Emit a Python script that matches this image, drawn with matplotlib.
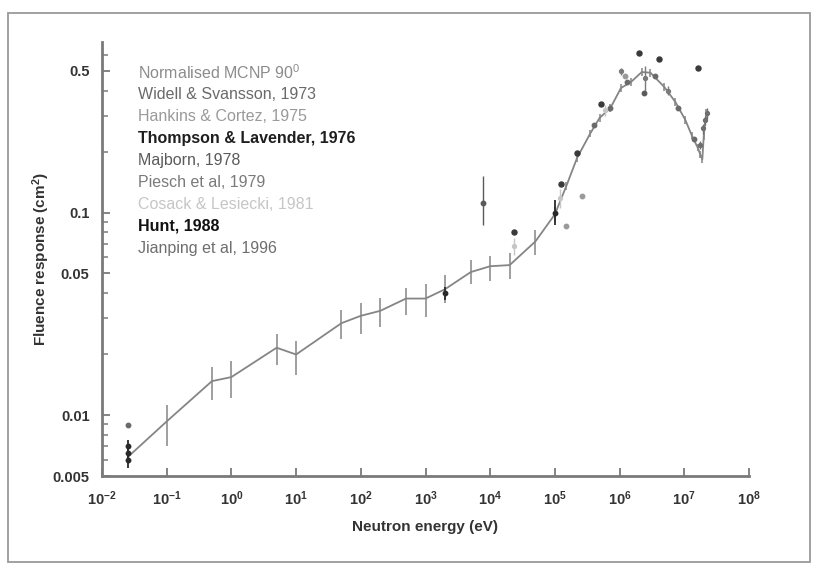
import matplotlib
matplotlib.use('Agg')
import matplotlib.pyplot as plt
from matplotlib.patches import Rectangle
from matplotlib.ticker import FixedLocator, LogLocator, NullFormatter, NullLocator

plt.rcParams['font.family'] = ['Liberation Sans', 'DejaVu Sans']
plt.rcParams['mathtext.fontset'] = 'custom'
plt.rcParams['mathtext.rm'] = 'Liberation Sans'
plt.rcParams['mathtext.bf'] = 'Liberation Sans:bold'
plt.rcParams['mathtext.it'] = 'Liberation Sans:italic'

# ---------------- data ----------------
mcnp_energy = [0.025, 0.1, 0.5, 1, 5, 10, 50, 100, 200, 500, 1e3, 2e3, 5e3, 1e4, 2e4, 5e4,
               1e5, 1.5e5, 2.2e5, 3.5e5, 4.9e5, 7.2e5, 1.05e6, 1.5e6, 2.2e6, 3.0e6, 4.9e6,
               7.3e6, 1.04e7, 1.3e7, 1.6e7, 1.77e7, 1.9e7, 2.0e7, 2.1e7, 2.2e7]
mcnp_resp = [0.0062, 0.0093, 0.0147, 0.0154, 0.0215, 0.0199, 0.0284, 0.0309, 0.0327, 0.0376,
             0.0376, 0.0418, 0.0508, 0.0543, 0.0550, 0.0720, 0.098, 0.135, 0.186, 0.245,
             0.293, 0.328, 0.412, 0.441, 0.494, 0.490, 0.417, 0.351, 0.286, 0.241, 0.210,
             0.193, 0.183, 0.240, 0.280, 0.310]
mcnp_lo = [0.0057, 0.00705, 0.0118, 0.0122, 0.0177, 0.0157, 0.0237, 0.0251, 0.0272, 0.0312,
           0.0305, 0.0357, 0.0443, 0.0461, 0.0470, 0.0618, 0.090, 0.129, 0.178, 0.235,
           0.281, 0.314, 0.395, 0.423, 0.470, 0.466, 0.399, 0.336, 0.274, 0.231, 0.201,
           0.185, 0.175, 0.228, 0.266, 0.294]
mcnp_hi = [0.0068, 0.01127, 0.0173, 0.0184, 0.0251, 0.0232, 0.0330, 0.0357, 0.0379, 0.0426,
           0.0443, 0.0489, 0.0582, 0.0611, 0.0630, 0.0822, 0.106, 0.141, 0.194, 0.255,
           0.305, 0.342, 0.429, 0.459, 0.520, 0.514, 0.435, 0.366, 0.298, 0.251, 0.219,
           0.201, 0.191, 0.252, 0.294, 0.326]

widell_energy = [0.025, 4e5, 7e5, 1.3e6, 3.5e6, 8e6, 1.4e7]
widell_resp = [0.0089, 0.27, 0.33, 0.44, 0.47, 0.33, 0.23]

hankins_energy = [1.5e5, 2.6e5, 1.2e6]
hankins_resp = [0.086, 0.120, 0.47]

thompson_energy = [2.3e4, 1.23e5, 2.2e5, 5.2e5, 2.0e6, 4.1e6, 1.6e7]
thompson_resp = [0.080, 0.138, 0.197, 0.343, 0.61, 0.57, 0.52]

majborn_energy = [7.8e3, 2.4e6]
majborn_resp = [0.111, 0.39]
majborn_lo = [0.087, 0.39]
majborn_hi = [0.151, 0.39]

piesch_energy = [1.05e6, 2.5e6, 5.5e6]
piesch_resp = [0.50, 0.46, 0.40]
piesch_lo = [0.48, 0.40, 0.38]
piesch_hi = [0.52, 0.53, 0.42]

cosack_energy = [2.3e4, 1.2e5, 6e5]
cosack_resp = [0.068, 0.118, 0.32]
cosack_lo = [0.062, 0.105, 0.30]
cosack_hi = [0.075, 0.130, 0.34]

hunt_energy = [0.025, 0.025, 0.025, 2e3, 1e5]
hunt_resp = [0.0060, 0.0065, 0.0070, 0.040, 0.100]
hunt_lo = [0.0055, 0.0060, 0.0065, 0.037, 0.087]
hunt_hi = [0.0065, 0.0070, 0.0075, 0.043, 0.115]

jianping_energy = [1.75e7, 1.95e7, 2.1e7, 2.25e7]
jianping_resp = [0.215, 0.26, 0.285, 0.31]
jianping_lo = [0.205, 0.245, 0.270, 0.290]
jianping_hi = [0.225, 0.275, 0.300, 0.330]

legend_labels = ['Normalised MCNP 90$^{0}$', 'Widell & Svansson, 1973', 'Hankins & Cortez, 1975',
                 'Thompson & Lavender, 1976', 'Majborn, 1978', 'Piesch et al, 1979',
                 'Cosack & Lesiecki, 1981', 'Hunt, 1988', 'Jianping et al, 1996']
legend_colors = ['#8c8c8c', '#6a6a6a', '#9a9a9a', '#1e1e1e', '#5a5a5a', '#7a7a7a',
                 '#c6c6c6', '#111111', '#6e6e6e']
legend_weights = ['normal', 'normal', 'normal', 'bold', 'normal', 'normal', 'normal', 'bold', 'normal']

x_ticks = [1e-2, 1e-1, 1e0, 1e1, 1e2, 1e3, 1e4, 1e5, 1e6, 1e7, 1e8]
x_ticklabels = [r'$\mathbf{10^{%d}}$' % e for e in range(-2, 9)]
y_ticks = [0.005, 0.01, 0.05, 0.1, 0.5]
y_ticklabels = ['0.005', '0.01', '0.05', '0.1', '0.5']

# ---------------- figure ----------------
fig = plt.figure(figsize=(8.16, 5.70), dpi=100)
ax = fig.add_axes([102 / 816, 1 - 476 / 570, 647 / 816, 434 / 570])

axis_gray = '#7a7a7a'


def yerr(resp, lo, hi):
    return [[r - l for r, l in zip(resp, lo)], [h - r for r, h in zip(resp, hi)]]


ax.errorbar(mcnp_energy, mcnp_resp, yerr=yerr(mcnp_resp, mcnp_lo, mcnp_hi),
            color='#858585', lw=1.3, elinewidth=1.1, capsize=0, zorder=3)

ms = 3.2
ax.plot(widell_energy, widell_resp, 'o', ms=ms, color=legend_colors[1], zorder=4)
ax.plot(hankins_energy, hankins_resp, 'o', ms=ms, color=legend_colors[2], zorder=4)
ax.plot(thompson_energy, thompson_resp, 'o', ms=ms + 0.4, color='#3a3a3a', zorder=4)
ax.errorbar(majborn_energy, majborn_resp, yerr=yerr(majborn_resp, majborn_lo, majborn_hi),
            fmt='o', ms=ms, color=legend_colors[4], elinewidth=1.0, capsize=0, zorder=4)
ax.errorbar(piesch_energy, piesch_resp, yerr=yerr(piesch_resp, piesch_lo, piesch_hi),
            fmt='o', ms=ms - 0.4, color=legend_colors[5], elinewidth=1.0, capsize=0, zorder=4)
ax.errorbar(cosack_energy, cosack_resp, yerr=yerr(cosack_resp, cosack_lo, cosack_hi),
            fmt='o', ms=ms - 0.4, color=legend_colors[6], elinewidth=1.0, capsize=0, zorder=4)
ax.errorbar(hunt_energy, hunt_resp, yerr=yerr(hunt_resp, hunt_lo, hunt_hi),
            fmt='o', ms=ms, color='#2a2a2a', elinewidth=1.3, capsize=0, zorder=5)
ax.errorbar(jianping_energy, jianping_resp, yerr=yerr(jianping_resp, jianping_lo, jianping_hi),
            fmt='o', ms=ms - 0.4, color=legend_colors[8], elinewidth=1.0, capsize=0, zorder=4)

ax.set_xscale('log')
ax.set_yscale('log')
ax.set_xlim(1e-2, 1e8)
ax.set_ylim(0.005, 0.695)

ax.xaxis.set_major_locator(FixedLocator(x_ticks))
ax.set_xticklabels(x_ticklabels)
ax.xaxis.set_minor_locator(NullLocator())
ax.yaxis.set_major_locator(FixedLocator(y_ticks))
ax.set_yticklabels(y_ticklabels)
ax.yaxis.set_minor_locator(LogLocator(base=10, subs=(2, 3, 4, 6, 7, 8, 9)))
ax.yaxis.set_minor_formatter(NullFormatter())

for s in ['top', 'right']:
    ax.spines[s].set_visible(False)
for s in ['left', 'bottom']:
    ax.spines[s].set_color(axis_gray)
    ax.spines[s].set_linewidth(2.0)

ax.tick_params(axis='both', which='major', direction='in', length=6, width=1.3,
               color=axis_gray, labelsize=10.5, labelcolor='#333333')
ax.tick_params(axis='y', which='minor', direction='in', length=4, width=1.1, color=axis_gray)
ax.tick_params(axis='x', which='major', pad=10)
ax.tick_params(axis='y', which='major', pad=9)
for lab in ax.get_yticklabels():
    lab.set_fontweight('bold')

ax.set_xlabel('Neutron energy (eV)', fontsize=11, fontweight='bold', color='#333333', labelpad=8)
ax.set_ylabel('Fluence response (cm$^{\\mathbf{2}}$)', fontsize=11, fontweight='bold',
              color='#333333', labelpad=0)

for i, (lab, col, w) in enumerate(zip(legend_labels, legend_colors, legend_weights)):
    ax.text(36 / 647, (476 - (73 + 21.9 * i)) / 434, lab, transform=ax.transAxes,
            fontsize=11.5, color=col, fontweight=w, va='center', ha='left')

fig.patches.append(Rectangle((8 / 816, 1 - 562 / 570), 802 / 816, 549 / 570,
                             transform=fig.transFigure, fill=False,
                             edgecolor='#9a9a9a', lw=1.3))

fig.savefig('out.png', dpi=100)
